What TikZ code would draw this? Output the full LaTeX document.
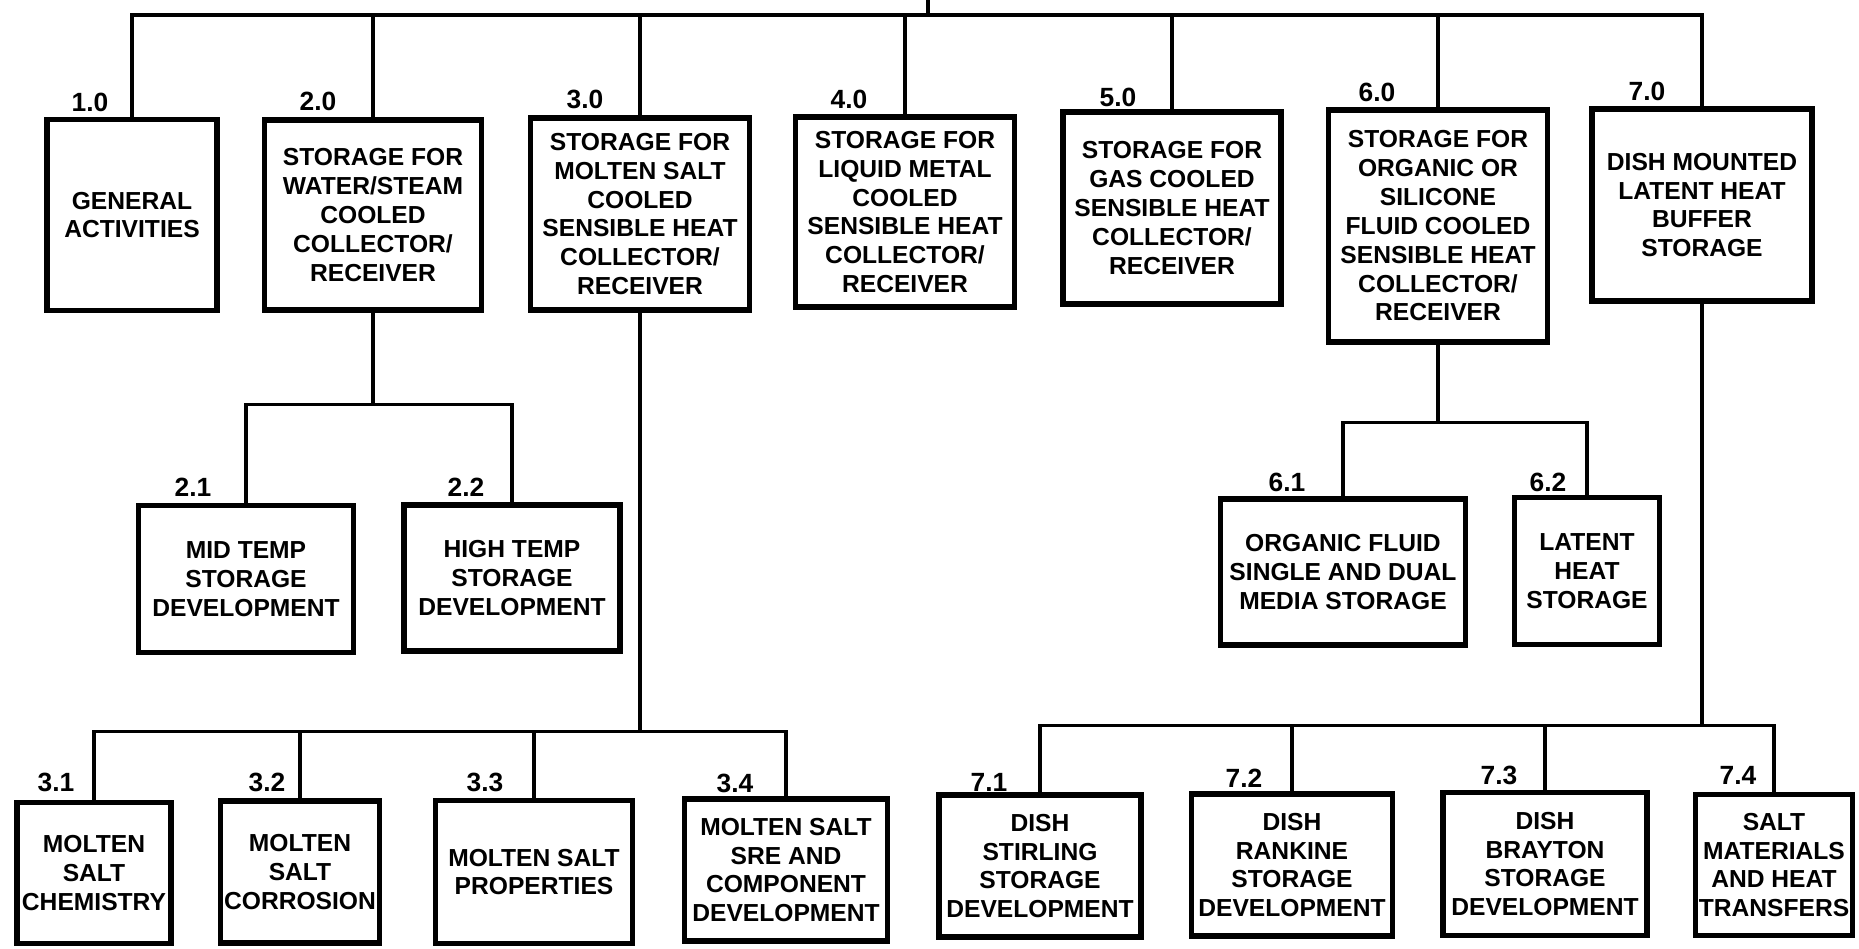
\documentclass[tikz,border=0pt]{standalone}
\usepackage{fontspec}
\setmainfont{Liberation Sans}
\usepackage{tikz}
\newcommand{\wbsfont}{\bfseries\fontsize{7}{8.2}\selectfont}
\newcommand{\idfont}{\bfseries\fontsize{7.5}{9}\selectfont}

\begin{document}
\begin{tikzpicture}[x=0.01cm,y=-0.01cm,
  wbs/.style={draw,line width=1.5pt,align=center,inner sep=1pt,font=\wbsfont},
  num/.style={inner sep=0pt,font=\idfont},
  link/.style={line width=0.9pt}]
\useasboundingbox (0,0) rectangle (1859,949);
% first level
\node[wbs,minimum width=1.70cm,minimum height=1.91cm] (s10) at (132,215) {GENERAL\\ACTIVITIES};
\node[wbs,minimum width=2.17cm,minimum height=1.90cm] (s20) at (373,215) {STORAGE FOR\\WATER/STEAM\\COOLED\\COLLECTOR/\\RECEIVER};
\node[wbs,minimum width=2.19cm,minimum height=1.92cm] (s30) at (640,214) {STORAGE FOR\\MOLTEN SALT\\COOLED\\SENSIBLE HEAT\\COLLECTOR/\\RECEIVER};
\node[wbs,minimum width=2.19cm,minimum height=1.90cm] (s40) at (905,212) {STORAGE FOR\\LIQUID METAL\\COOLED\\SENSIBLE HEAT\\COLLECTOR/\\RECEIVER};
\node[wbs,minimum width=2.18cm,minimum height=1.92cm] (s50) at (1172,208) {STORAGE FOR\\GAS COOLED\\SENSIBLE HEAT\\COLLECTOR/\\RECEIVER};
\node[wbs,minimum width=2.19cm,minimum height=2.32cm] (s60) at (1438,226) {STORAGE FOR\\ORGANIC OR\\SILICONE\\FLUID COOLED\\SENSIBLE HEAT\\COLLECTOR/\\RECEIVER};
\node[wbs,minimum width=2.20cm,minimum height=1.92cm] (s70) at (1702,205) {DISH MOUNTED\\LATENT HEAT\\BUFFER\\STORAGE};
\node[num] (n10) at (90,102) {1.0};
\node[num] (n20) at (318,101) {2.0};
\node[num] (n30) at (585,99) {3.0};
\node[num] (n40) at (849,99) {4.0};
\node[num] (n50) at (1118,97) {5.0};
\node[num] (n60) at (1377,92) {6.0};
\node[num] (n70) at (1647,91) {7.0};
% second level
\node[wbs,minimum width=2.15cm,minimum height=1.47cm] (s21) at (246,579) {MID TEMP\\STORAGE\\DEVELOPMENT};
\node[wbs,minimum width=2.16cm,minimum height=1.46cm] (s22) at (512,578) {HIGH TEMP\\STORAGE\\DEVELOPMENT};
\node[wbs,minimum width=2.45cm,minimum height=1.46cm] (s61) at (1343,572) {ORGANIC FLUID\\SINGLE AND DUAL\\MEDIA STORAGE};
\node[wbs,minimum width=1.45cm,minimum height=1.47cm] (s62) at (1587,571) {LATENT\\HEAT\\STORAGE};
\node[num] (n21) at (193,487) {2.1};
\node[num] (n22) at (466,487) {2.2};
\node[num] (n61) at (1287,482) {6.1};
\node[num] (n62) at (1548,482) {6.2};
\node[wbs,minimum width=1.54cm,minimum height=1.41cm] (s31) at (94,873) {MOLTEN\\SALT\\CHEMISTRY};
\node[wbs,minimum width=1.54cm,minimum height=1.42cm] (s32) at (300,872) {MOLTEN\\SALT\\CORROSION};
\node[wbs,minimum width=1.97cm,minimum height=1.43cm] (s33) at (534,872) {MOLTEN SALT\\PROPERTIES};
\node[wbs,minimum width=2.03cm,minimum height=1.42cm] (s34) at (786,870) {MOLTEN SALT\\SRE AND\\COMPONENT\\DEVELOPMENT};
\node[wbs,minimum width=2.02cm,minimum height=1.42cm] (s71) at (1040,866) {DISH\\STIRLING\\STORAGE\\DEVELOPMENT};
\node[wbs,minimum width=2.01cm,minimum height=1.42cm] (s72) at (1292,865) {DISH\\RANKINE\\STORAGE\\DEVELOPMENT};
\node[wbs,minimum width=2.04cm,minimum height=1.43cm] (s73) at (1545,864) {DISH\\BRAYTON\\STORAGE\\DEVELOPMENT};
\node[wbs,minimum width=1.55cm,minimum height=1.41cm] (s74) at (1774,865) {SALT\\MATERIALS\\AND HEAT\\TRANSFERS};
\node[num] (n31) at (56,782) {3.1};
\node[num] (n32) at (267,782) {3.2};
\node[num] (n33) at (485,782) {3.3};
\node[num] (n34) at (735,783) {3.4};
\node[num] (n71) at (989,782) {7.1};
\node[num] (n72) at (1244,778) {7.2};
\node[num] (n73) at (1499,775) {7.3};
\node[num] (n74) at (1738,775) {7.4};
% tree lines
\coordinate (root) at (928,0);
\coordinate (j0) at (928,15);
\draw[link] (root) -- (j0);
\draw[link] (j0) -| (s10.north);
\draw[link] (j0) -| (s20.north);
\draw[link] (j0) -| (s30.north);
\draw[link] (j0) -| (s40.north);
\draw[link] (j0) -| (s50.north);
\draw[link] (j0) -| (s60.north);
\draw[link] (j0) -| (s70.north);
\draw[link] (s20.south) -- ++(0,92) coordinate (j20);
\draw[link] (j20) -| (s21.north);
\draw[link] (j20) -| (s22.north);
\draw[link] (s30.south) -- ++(0,419) coordinate (j30);
\draw[link] (j30) -| (s31.north);
\draw[link] (j30) -| (s32.north);
\draw[link] (j30) -| (s33.north);
\draw[link] (j30) -| (s34.north);
\draw[link] (s60.south) -- ++(0,78) coordinate (j60);
\draw[link] (j60) -| (s61.north);
\draw[link] (j60) -| (s62.north);
\draw[link] (s70.south) -- ++(0,422) coordinate (j70);
\draw[link] (j70) -| (s71.north);
\draw[link] (j70) -| (s72.north);
\draw[link] (j70) -| (s73.north);
\draw[link] (j70) -| (s74.north);
\end{tikzpicture}
\end{document}
